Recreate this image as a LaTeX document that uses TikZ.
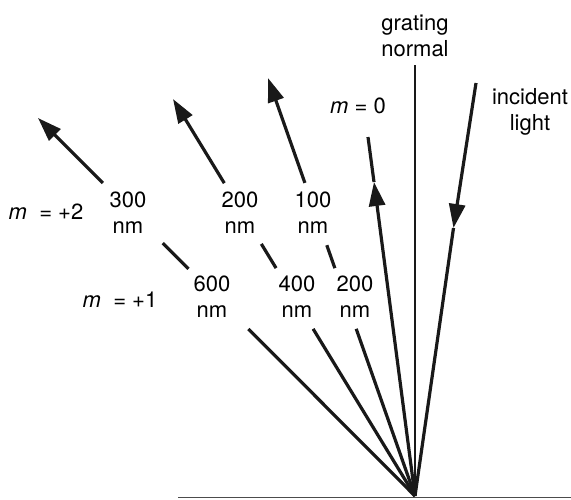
\documentclass[tikz,border=0pt]{standalone}
\usepackage{fontspec}
\setmainfont{TeX Gyre Heros}
\usetikzlibrary{arrows.meta,calc}
\begin{document}
\begin{tikzpicture}[x=1pt,y=-1pt,
  ray/.style={line width=3.2pt,black!90},
  tip/.style={-{Triangle[length=24pt,width=16pt]}},
  lbl/.style={font=\fontsize{22}{26}\selectfont,align=center,inner sep=0pt},
]
\useasboundingbox (0,0) rectangle (571,499);
% key points
\coordinate (O) at (415,496);
\coordinate (ntop) at (415,65);
\coordinate (inc) at (476,83);
\coordinate (inctip) at (453.5,228);
\coordinate (m0end) at (368,137);
\coordinate (m0tip) at (374,182);
\coordinate (ta) at (268,78);
\coordinate (tb) at (173,99);
\coordinate (tc) at (38,118);
% grating surface
\draw[line width=1.6pt,black!70] (178,497.5) -- (571,497.5);
% grating normal
\draw[line width=2.2pt,black!90] (O) -- (ntop);
% incident light
\draw[ray,tip] (inc) -- (inctip);
\draw[ray] (inctip) -- (O);
% zeroth order
\draw[ray,tip] (O) -- (m0tip);
\draw[ray] (m0tip) -- (m0end);
% ray A: 200 nm (m=+1), 100 nm (m=+2)
\draw[ray] (O) -- ($(O)!0.40!(ta)$);
\draw[ray] ($(O)!0.545!(ta)$) -- ($(O)!0.600!(ta)$);
\draw[ray,tip] ($(O)!0.749!(ta)$) -- (ta);
% ray B: 400 nm (m=+1), 200 nm (m=+2)
\draw[ray] (O) -- ($(O)!0.421!(tb)$);
\draw[ray] ($(O)!0.574!(tb)$) -- ($(O)!0.635!(tb)$);
\draw[ray,tip] ($(O)!0.788!(tb)$) -- (tb);
% ray C: 600 nm (m=+1), 300 nm (m=+2)
\draw[ray] (O) -- ($(O)!0.442!(tc)$);
\draw[ray] ($(O)!0.601!(tc)$) -- ($(O)!0.669!(tc)$);
\draw[ray,tip] ($(O)!0.828!(tc)$) -- (tc);
% labels
\node[lbl] (gn) at (415,36) {grating\\normal};
\node[lbl] (il) at (530,112) {incident\\light};
\node[lbl,anchor=base] (m0) at (358,113) {\textit{m} = 0};
\node[lbl,anchor=base] (m2) at (46,219) {\textit{m}\ \ = +2};
\node[lbl,anchor=base] (m1) at (120,307) {\textit{m}\ \ = +1};
\node[lbl] (a2) at (128,212.5) {300\\nm};
\node[lbl] (b2) at (240,212.5) {200\\nm};
\node[lbl] (c2) at (313,212.5) {100\\nm};
\node[lbl] (a1) at (212,297) {600\\nm};
\node[lbl] (b1) at (297,297) {400\\nm};
\node[lbl] (c1) at (355,297) {200\\nm};
\end{tikzpicture}
\end{document}
